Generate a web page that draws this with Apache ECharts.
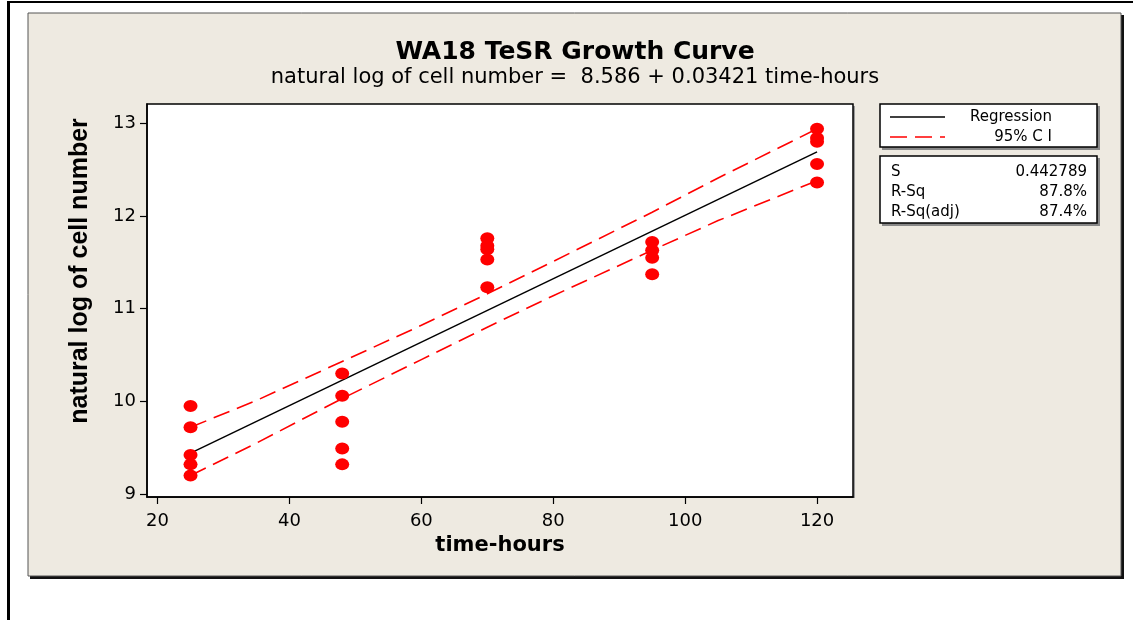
<!DOCTYPE html>
<html>
<head>
<meta charset="utf-8">
<script src="https://cdn.jsdelivr.net/npm/echarts@6/dist/echarts.min.js"></script>
<style>
  html, body { margin: 0; padding: 0; background: #ffffff; }
  #chart { width: 1133px; height: 620px; }
</style>
</head>
<body>
<div id="chart"></div>
<script>
// ---- Data ----
const timeHours = [25, 48, 70, 95, 120];
const cells25 = [9.95, 9.72, 9.42, 9.32, 9.20];
const cells48 = [10.30, 10.06, 9.78, 9.49, 9.32];
const cells70 = [11.76, 11.68, 11.64, 11.53, 11.23];
const cells95 = [11.72, 11.63, 11.55, 11.37];
const cells120 = [12.94, 12.84, 12.80, 12.56, 12.36];

const regX = [25, 120];
const regY = [9.441, 12.691];

const ciX = [25, 35, 48, 60, 70, 80, 95, 105, 120];
const ciUpper = [9.72, 10.01, 10.43, 10.82, 11.16, 11.51, 12.04, 12.41, 12.94];
const ciLower = [9.20, 9.55, 10.03, 10.45, 10.80, 11.14, 11.63, 11.95, 12.38];

const xTicks = [20, 40, 60, 80, 100, 120];
const yTicks = [9, 10, 11, 12, 13];

const statNames = ['S', 'R-Sq', 'R-Sq(adj)'];
const statValues = ['0.442789', '87.8%', '87.4%'];

// ---- Build series data ----
const groups = [cells25, cells48, cells70, cells95, cells120];
const points = [];
groups.forEach((g, i) => g.forEach(v => points.push([timeHours[i], v])));
const regData = regX.map((x, i) => [x, regY[i]]);
const upperData = ciX.map((x, i) => [x, ciUpper[i]]);
const lowerData = ciX.map((x, i) => [x, ciLower[i]]);

const chart = echarts.init(document.getElementById('chart'), null, { renderer: 'canvas' });

const sans = 'DejaVu Sans';
const graphics = [
  // outer black lines
  { type: 'rect', z: -20, shape: { x: 7, y: 1, width: 1126, height: 2 }, style: { fill: '#000' } },
  { type: 'rect', z: -20, shape: { x: 7, y: 1, width: 3, height: 619 }, style: { fill: '#000' } },
  // beige panel with shadow
  { type: 'rect', z: -19, shape: { x: 30, y: 15, width: 1094, height: 564 }, style: { fill: '#111' } },
  { type: 'rect', z: -18, shape: { x: 28, y: 13, width: 1093, height: 563 }, style: { fill: '#EEEAE1', stroke: '#555', lineWidth: 1 } },
  // plot shadow
  { type: 'rect', z: -17, shape: { x: 149, y: 106, width: 706, height: 392 }, style: { fill: '#9a9a9a' } },
  // y axis title (placed as in the reference)
  { type: 'text', z: 7, x: 80, y: 271, rotation: Math.PI / 2,
    style: { text: 'natural log of cell number', font: 'bold 25px "Liberation Sans"', fill: '#000', align: 'center', verticalAlign: 'middle' } },
  // legend box
  { type: 'rect', z: 5, shape: { x: 882, y: 106, width: 218, height: 44 }, style: { fill: '#888' } },
  { type: 'rect', z: 6, shape: { x: 880, y: 104, width: 217, height: 43 }, style: { fill: '#fff', stroke: '#000', lineWidth: 1.5 } },
  { type: 'line', z: 7, shape: { x1: 890, y1: 117, x2: 945, y2: 117 }, style: { stroke: '#000', lineWidth: 1.5 } },
  { type: 'line', z: 7, shape: { x1: 890, y1: 137, x2: 945, y2: 137 }, style: { stroke: '#ff0000', lineWidth: 1.5, lineDash: [17, 8] } },
  { type: 'text', z: 7, x: 1052, y: 117, style: { text: 'Regression', font: '15px ' + sans, fill: '#000', align: 'right', verticalAlign: 'middle' } },
  { type: 'text', z: 7, x: 1052, y: 137, style: { text: '95% C I', font: '15px ' + sans, fill: '#000', align: 'right', verticalAlign: 'middle' } },
  // stats box
  { type: 'rect', z: 5, shape: { x: 882, y: 158, width: 218, height: 68 }, style: { fill: '#888' } },
  { type: 'rect', z: 6, shape: { x: 880, y: 156, width: 217, height: 67 }, style: { fill: '#fff', stroke: '#000', lineWidth: 1.5 } }
];
statNames.forEach((n, i) => {
  graphics.push({ type: 'text', z: 7, x: 891, y: 172 + i * 20, style: { text: n, font: '15px ' + sans, fill: '#000', align: 'left', verticalAlign: 'middle' } });
  graphics.push({ type: 'text', z: 7, x: 1087, y: 172 + i * 20, style: { text: statValues[i], font: '15px ' + sans, fill: '#000', align: 'right', verticalAlign: 'middle' } });
});

const option = {
  backgroundColor: '#ffffff',
  animation: false,
  title: {
    text: 'WA18 TeSR Growth Curve',
    subtext: 'natural log of cell number =  8.586 + 0.03421 time-hours',
    left: 575,
    top: 40,
    textAlign: 'center',
    itemGap: 2,
    padding: 0,
    textStyle: { fontFamily: sans, fontWeight: 'bold', fontSize: 25, color: '#000' },
    subtextStyle: { fontFamily: sans, fontSize: 21, color: '#000' }
  },
  grid: {
    left: 147, top: 104, width: 706, height: 393,
    show: true, backgroundColor: '#ffffff', borderColor: '#000', borderWidth: 1.5,
    containLabel: false
  },
  xAxis: {
    type: 'value',
    min: 18.4, max: 125.45,
    name: 'time-hours',
    nameLocation: 'middle',
    nameGap: 38,
    nameTextStyle: { fontFamily: sans, fontWeight: 'bold', fontSize: 21, color: '#000' },
    axisLine: { show: true, onZero: false, lineStyle: { color: '#000', width: 1.5 } },
    axisTick: { show: true, inside: false, length: 7, customValues: xTicks, lineStyle: { color: '#000', width: 1.2 } },
    axisLabel: { customValues: xTicks, margin: 15, fontFamily: sans, fontSize: 18, color: '#000' },
    splitLine: { show: false }
  },
  yAxis: {
    type: 'value',
    min: 8.968, max: 13.208,
    axisLine: { show: true, onZero: false, lineStyle: { color: '#000', width: 1.5 } },
    axisTick: { show: true, inside: false, length: 7, customValues: yTicks, lineStyle: { color: '#000', width: 1.2 } },
    axisLabel: { customValues: yTicks, margin: 11, fontFamily: sans, fontSize: 18, color: '#000' },
    splitLine: { show: false }
  },
  graphic: graphics,
  series: [
    {
      name: '95% CI upper', type: 'line', data: upperData, symbol: 'none', z: 3,
      lineStyle: { color: '#ff0000', width: 1.6, type: [17, 8] }
    },
    {
      name: '95% CI lower', type: 'line', data: lowerData, symbol: 'none', z: 3,
      lineStyle: { color: '#ff0000', width: 1.6, type: [17, 8] }
    },
    {
      name: 'Regression', type: 'line', data: regData, symbol: 'none', z: 4,
      lineStyle: { color: '#000', width: 1.5 }
    },
    {
      name: 'Observations', type: 'scatter', data: points, symbol: 'circle', symbolSize: [14, 12], z: 5,
      itemStyle: { color: '#ff0000', opacity: 1 }
    }
  ]
};
chart.setOption(option);
</script>
</body>
</html>
